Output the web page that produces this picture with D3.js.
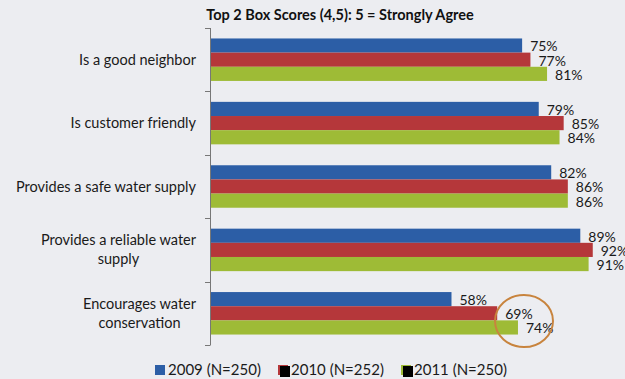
<!DOCTYPE html>
<html><head><meta charset="utf-8">
<script src="https://cdn.jsdelivr.net/npm/d3@7"></script>
<style>html,body{margin:0;padding:0;background:#ecedf1;}svg{display:block;}</style>
</head><body><div id="chart"></div>
<script>
const title = "Top 2 Box Scores (4,5): 5 = Strongly Agree";
const categories = ["Is a good neighbor","Is customer friendly","Provides a safe water supply","Provides a reliable water supply","Encourages water conservation"];
const categoryLines = [["Is a good neighbor"],["Is customer friendly"],["Provides a safe water supply"],["Provides a reliable water","supply"],["Encourages water","conservation"]];
const seriesNames = ["2009 (N=250)","2010 (N=252)","2011 (N=250)"];
const values2009 = [75,79,82,89,58];
const values2010 = [77,85,86,92,69];
const values2011 = [81,84,86,91,74];
const seriesValues = [values2009, values2010, values2011];
const colors = ["#2c5ea6","#b5373a","#9ebb36"];

function draw(){
const W = 625, H = 379;
const svg = d3.select("#chart").append("svg").attr("width",W).attr("height",H);
svg.append("rect").attr("width",W).attr("height",H).attr("fill","#ecedf1");

const font = "Lato, 'Open Sans', sans-serif";
const x = d3.scaleLinear().domain([0,100]).range([210.5,626]);
const y = d3.scaleBand().domain(categories).range([28,345]).paddingInner(0.33).paddingOuter(0.165);
const y1 = d3.scaleBand().domain([0,1,2]).range([0,y.bandwidth()]);

svg.append("text").attr("x",340).attr("y",20).attr("text-anchor","middle")
  .attr("font-family",font).attr("font-weight","bold").attr("font-size",14.5).attr("fill","#111").text(title);

const g = svg.append("g");
categories.forEach((c,ci)=>{
  const gg = g.append("g").attr("transform",`translate(0,${y(c)})`);
  seriesValues.forEach((vals,si)=>{
    gg.append("rect").attr("x",x(0)).attr("y",y1(si)).attr("width",x(vals[ci])-x(0)).attr("height",y1.bandwidth())
      .attr("fill",colors[si]);
    gg.append("text").attr("x",x(vals[ci])+8).attr("y",y1(si)+y1.bandwidth()/2+1).attr("dy","0.35em")
      .attr("font-family",font).attr("font-size",14).attr("fill","#1a1a1a").text(vals[ci]+"%");
  });
});

// axis
const axis = svg.append("g").attr("stroke","#777").attr("stroke-width",1);
axis.append("line").attr("x1",210.5).attr("x2",210.5).attr("y1",28).attr("y2",345);
const bounds = [28].concat(categories.map(c=>y(c)+y.bandwidth()+y.step()*y.paddingInner()/2));
bounds[bounds.length-1]=345;
bounds.forEach(b=>axis.append("line").attr("x1",205).attr("x2",210.5).attr("y1",Math.round(b)+0.5).attr("y2",Math.round(b)+0.5));

// category labels
categories.forEach((c,ci)=>{
  const lines = categoryLines[ci];
  const cy = y(c)+y.bandwidth()/2;
  const lh = 19;
  const t = svg.append("text").attr("font-family",font).attr("font-size",14.5).attr("fill","#1a1a1a")
    .attr("text-anchor","middle");
  const spans = lines.map((l,li)=>t.append("tspan").attr("x",0).attr("y",cy+(li-(lines.length-1)/2)*lh).attr("dy","0.35em").text(l));
  const maxW = d3.max(spans, s=>s.node().getComputedTextLength());
  t.selectAll("tspan").attr("x",196 - maxW/2);
});

// circle annotation
svg.append("ellipse").attr("cx",524).attr("cy",321).attr("rx",29).attr("ry",26)
  .attr("fill","none").attr("stroke","#c8843e").attr("stroke-width",2);

// legend
const legX = [155,278,401];
seriesNames.forEach((n,i)=>{
  const lx = legX[i];
  svg.append("rect").attr("x",lx).attr("y",365).attr("width",10).attr("height",10).attr("fill",colors[i]);
  if(i>0) svg.append("rect").attr("x",lx+2).attr("y",366).attr("width",10).attr("height",11).attr("fill","#000");
  svg.append("text").attr("x",lx+13).attr("y",370).attr("dy","0.35em")
    .attr("font-family",font).attr("font-size",15).attr("fill","#1a1a1a").text(n);
});
}
if (document.fonts && document.fonts.load) {
  Promise.all([document.fonts.load("14.5px Lato"), document.fonts.load("bold 14.5px Lato")]).then(draw, draw);
} else draw();
</script></body></html>
